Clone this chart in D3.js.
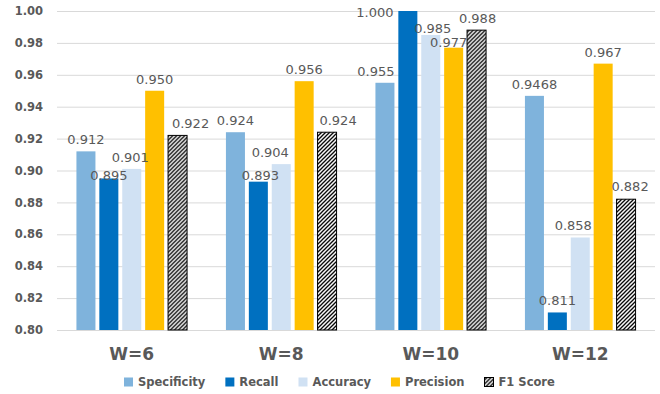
<!DOCTYPE html>
<html>
<head>
<meta charset="utf-8">
<script src="https://cdn.jsdelivr.net/npm/d3@7"></script>
<style>
  html, body { margin: 0; padding: 0; background: #fff; }
  svg { display: block; }
</style>
</head>
<body>
<svg id="chart" width="660" height="394"></svg>
<script>
// Window sizes compared
const categories = ["W=6", "W=8", "W=10", "W=12"];

// Metric values per window size
const specificity = [0.912, 0.924, 0.955, 0.9468];
const recall      = [0.895, 0.893, 1.000, 0.811];
const accuracy    = [0.901, 0.904, 0.985, 0.858];
const precision   = [0.950, 0.956, 0.977, 0.967];
const f1Score     = [0.922, 0.924, 0.988, 0.882];

const seriesNames = ["Specificity", "Recall", "Accuracy", "Precision", "F1 Score"];
const seriesValues = [specificity, recall, accuracy, precision, f1Score];

const yTicks = [0.80, 0.82, 0.84, 0.86, 0.88, 0.90, 0.92, 0.94, 0.96, 0.98, 1.00];

// Small label nudges (px) so crowded value labels don't collide: [dx, dy] per series, per group
const labelNudge = [
  [[0, 0], [0, 0], [-9, 0], [0, 0]],
  [[0, 8.5], [2, 5], [-33, 13], [0, 0]],
  [[-1.5, 0], [-11, 0], [2, 5], [-7, 0]],
  [[0, 0], [0, 0], [-5, 6], [0, 0]],
  [[13, 0], [11, 0], [1, 0], [4, -1]]
];

const colors = ["#7FB3DC", "#0070C0", "#D0E1F3", "#FFC000", "url(#hatch)"];
const textColor = "#595959";
const fontFamily = "'DejaVu Sans', Verdana, sans-serif";

const svg = d3.select("#chart");
const margin = { left: 57, right: 5, top: 11, bottom: 64 };
const W = 660, H = 394;
const plotRight = W - margin.right;
const plotBottom = H - margin.bottom;

// Diagonal hatch for F1 Score
const defs = svg.append("defs");
const pat = defs.append("pattern")
  .attr("id", "hatch")
  .attr("patternUnits", "userSpaceOnUse")
  .attr("width", 4).attr("height", 4);
pat.append("rect").attr("width", 4).attr("height", 4).attr("fill", "#fff");
pat.append("path")
  .attr("d", "M-1,1 L1,-1 M0,4 L4,0 M3,5 L5,3")
  .attr("stroke", "#000").attr("stroke-width", 1.3);

const y = d3.scaleLinear().domain([0.80, 1.00]).range([plotBottom, margin.top]);
const x0 = d3.scaleBand().domain(categories)
  .range([margin.left, plotRight]).paddingInner(0.26).paddingOuter(0.13);
const x1 = d3.scaleBand().domain(seriesNames)
  .range([0, x0.bandwidth()]).paddingInner(0.17).paddingOuter(0);

// Gridlines and tick labels
const yAxis = d3.axisLeft(y).tickValues(yTicks).tickFormat(d3.format(".2f"))
  .tickSize(-(plotRight - margin.left)).tickPadding(14);
const gy = svg.append("g").attr("transform", `translate(${margin.left},0)`).call(yAxis);
gy.select(".domain").remove();
gy.selectAll(".tick line").attr("stroke", "#D9D9D9").attr("stroke-width", 1);
gy.selectAll(".tick text")
  .attr("fill", textColor)
  .attr("font-family", fontFamily)
  .attr("font-weight", "bold")
  .attr("font-size", "11.5px");

// Bars
const groups = svg.append("g").selectAll("g")
  .data(categories)
  .join("g")
  .attr("transform", d => `translate(${x0(d)},0)`);

const fmt = v => {
  const s = String(v);
  const dec = s.includes(".") ? s.split(".")[1].length : 0;
  return v.toFixed(Math.max(3, dec));
};

groups.each(function(cat, gi) {
  const g = d3.select(this);
  seriesNames.forEach((name, si) => {
    const v = seriesValues[si][gi];
    g.append("rect")
      .attr("x", x1(name))
      .attr("y", y(v))
      .attr("width", x1.bandwidth())
      .attr("height", y(0.80) - y(v))
      .attr("fill", colors[si])
      .attr("stroke", si === 4 ? "#000" : "none")
      .attr("stroke-width", si === 4 ? 1 : 0);
  });
  seriesNames.forEach((name, si) => {
    const v = seriesValues[si][gi];
    const [dx, dy] = labelNudge[si][gi];
    g.append("text")
      .attr("x", x1(name) + x1.bandwidth() / 2 + dx)
      .attr("y", y(v) - 7 + dy)
      .attr("text-anchor", "middle")
      .attr("fill", textColor)
      .attr("font-family", fontFamily)
      .attr("font-size", "13px")
      .text(fmt(v));
  });
});

// Category labels
svg.append("g").selectAll("text")
  .data(categories)
  .join("text")
  .attr("x", d => x0(d) + x0.bandwidth() / 2)
  .attr("y", 360)
  .attr("text-anchor", "middle")
  .attr("fill", textColor)
  .attr("font-family", fontFamily)
  .attr("font-weight", "bold")
  .attr("font-size", "17px")
  .text(d => d);

// Legend
const legend = svg.append("g").attr("transform", "translate(124,0)");
let lx = 0;
seriesNames.forEach((name, si) => {
  const item = legend.append("g").attr("transform", `translate(${lx},0)`);
  item.append("rect")
    .attr("x", 0).attr("y", 377.5)
    .attr("width", 9).attr("height", 9)
    .attr("fill", colors[si])
    .attr("stroke", si === 4 ? "#000" : "none")
    .attr("stroke-width", si === 4 ? 1 : 0);
  const t = item.append("text")
    .attr("x", 14).attr("y", 386)
    .attr("fill", textColor)
    .attr("font-family", fontFamily)
    .attr("font-weight", "bold")
    .attr("font-size", "11.5px")
    .text(name);
  lx += 14 + t.node().getComputedTextLength() + 20;
});
</script>
</body>
</html>
